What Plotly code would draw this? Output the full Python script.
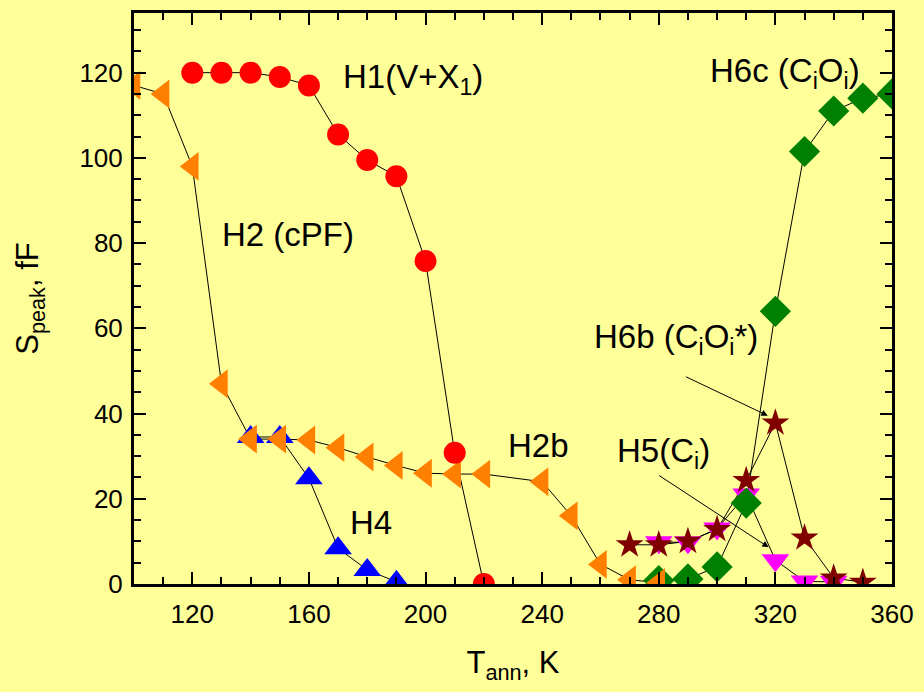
import plotly.graph_objects as go

# H1 (V+X1) - red circles
h1_x = [120, 130, 140, 150, 160, 170, 180, 190, 200, 210, 220]
h1_y = [120, 120, 120, 119, 117, 105.5, 99.5, 95.7, 75.8, 30.8, 0]

# H2 (cPF) / H2b - orange left triangles
h2_x = [100, 110, 120, 130, 140, 150, 160, 170, 180, 190, 200, 210, 220, 240, 250, 260, 270, 280]
h2_y = [117, 115, 98, 47, 34, 34, 33.8, 32, 29.8, 27.8, 26, 25.8, 25.8, 24, 16, 4.6, 1.0, 0.3]

# H4 - blue up triangles
h4_x = [140, 150, 160, 170, 180, 190]
h4_y = [34.5, 34.5, 24.8, 8.4, 3.3, 0.5]

# H5 (Ci) - magenta down triangles
h5_x = [280, 290, 300, 310, 320, 330, 340]
h5_y = [9.8, 9.8, 13, 21, 5.6, 0.6, 0.5]

# H6b (CiOi*) - dark red stars
h6b_x = [270, 280, 290, 300, 310, 320, 330, 340, 350]
h6b_y = [9.2, 9.2, 10, 12.8, 24.3, 37.8, 10.8, 1.4, 0.4]

# H6c (CiOi) - green diamonds
h6c_x = [280, 290, 300, 310, 320, 330, 340, 350, 360]
h6c_y = [0.8, 1.2, 4, 19, 64, 101.5, 111, 114, 115]

x_ticks = [120, 160, 200, 240, 280, 320, 360]
y_ticks = [0, 20, 40, 60, 80, 100, 120]

BG = "#FFFF99"
FONT = "Liberation Sans, Arial, sans-serif"

series = [
    (h4_x, h4_y, "triangle-up", "#0000FF", 24),
    (h5_x, h5_y, "triangle-down", "#FF00FF", 24),
    (h6c_x, h6c_y, "diamond", "#008000", 24),
    (h2_x, h2_y, "triangle-left", "#FF8000", 25),
    (h1_x, h1_y, "circle", "#FF0000", 22),
    (h6b_x, h6b_y, "star", "#800000", 21),
]

fig = go.Figure()
for xs, ys, sym, col, sz in series:
    fig.add_trace(go.Scatter(x=xs, y=ys, mode="lines",
                             line=dict(color="black", width=1),
                             hoverinfo="skip", cliponaxis=True))
for xs, ys, sym, col, sz in series:
    fig.add_trace(go.Scatter(x=xs, y=ys, mode="markers",
                             marker=dict(symbol=sym, color=col, size=sz,
                                         line=dict(width=0)),
                             cliponaxis=True))

txt = dict(size=33, color="black", family=FONT)
labels = [
    (129.5, 82, "H2 (cPF)"),
    (171, 118.5, "H1(V+X<sub>1</sub>)"),
    (227.5, 32.5, "H2b"),
    (173.5, 14.5, "H4"),
    (297, 120, "H6c (C<sub>i</sub>O<sub>i</sub>)"),
    (257, 57.5, "H6b (C<sub>i</sub>O<sub>i</sub>*)"),
    (265, 30.8, "H5(C<sub>i</sub>)"),
]
for lx, ly, t in labels:
    fig.add_annotation(x=lx, y=ly, text=t, showarrow=False, xanchor="left",
                       yanchor="middle", font=txt)

arrows = [
    (288.8, 48.8, 317.4, 39.5),
    (279.6, 25.7, 317.7, 8.6),
]
for ax_, ay_, tx, ty in arrows:
    fig.add_annotation(x=tx, y=ty, ax=ax_, ay=ay_, xref="x", yref="y",
                       axref="x", ayref="y", text="", showarrow=True,
                       arrowhead=2, arrowsize=1.3, arrowwidth=1,
                       arrowcolor="black")

axis_common = dict(showline=True, linecolor="black", linewidth=3,
                   mirror="allticks", ticks="inside", ticklen=12,
                   tickwidth=2, tickcolor="black", showgrid=False,
                   zeroline=False,
                   tickfont=dict(size=26, color="black", family=FONT))

fig.update_xaxes(range=[100, 360], tickvals=x_ticks,
                 ticktext=[str(v) for v in x_ticks],
                 ticklabelstandoff=5,
                 minor=dict(ticks="inside", dtick=10, tick0=100, ticklen=7,
                            tickwidth=2, tickcolor="black"),
                 title=dict(text="T<sub>ann</sub>, K",
                            font=dict(size=31, color="black", family=FONT),
                            standoff=24),
                 **axis_common)
fig.update_yaxes(range=[0, 134], tickvals=y_ticks,
                 ticktext=[str(v) for v in y_ticks],
                 ticklabelstandoff=3,
                 minor=dict(ticks="inside", dtick=5, tick0=0, ticklen=7,
                            tickwidth=2, tickcolor="black"),
                 title=dict(text="S<sub>peak</sub>, fF",
                            font=dict(size=31, color="black", family=FONT),
                            standoff=32),
                 **axis_common)

fig.update_layout(width=924, height=692, showlegend=False,
                  paper_bgcolor=BG, plot_bgcolor=BG,
                  margin=dict(l=134, r=27, t=10, b=108))

fig.write_html("out.html")
